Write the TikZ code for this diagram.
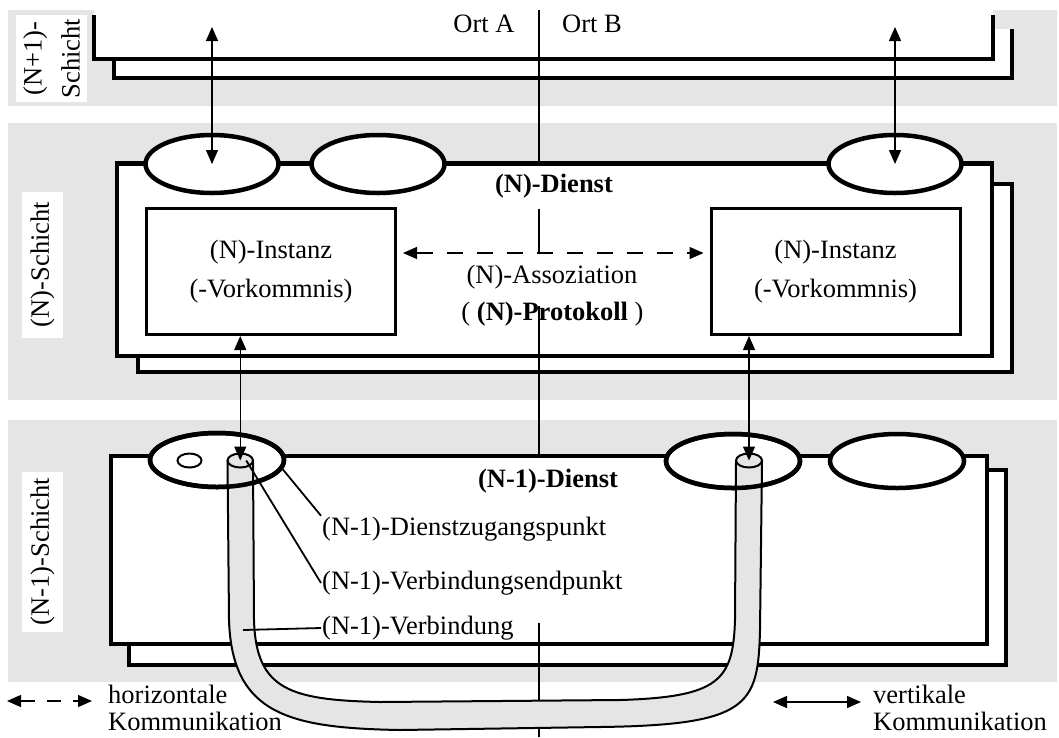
\documentclass[tikz,border=0pt]{standalone}
\usepackage{fontspec}
\setmainfont{Liberation Serif}
\usetikzlibrary{shapes.geometric}
\usetikzlibrary{arrows.meta}
\usetikzlibrary{calc}

\tikzset{
  layer/.style={fill=black!10},
  frame/.style={draw,line width=4.5pt,fill=white},
  sap/.style={ellipse,draw,line width=4.5pt,fill=white,
    minimum width=133pt,minimum height=58pt,inner sep=0pt},
  instanz/.style={draw,line width=3pt,fill=white,
    minimum width=249pt,minimum height=126pt,align=center,
    font=\fontsize{26.5}{39}\selectfont},
  schicht/.style={fill=white,rotate=90,inner sep=0pt,align=center},
  fett/.style={font=\fontsize{26.5}{30}\selectfont\bfseries},
  vert/.style={{Triangle[length=14pt,width=12pt]}-{Triangle[length=14pt,width=12pt]},
    line width=1.3pt},
  horiz/.style={vert,dash pattern=on 16pt off 14pt},
  leader/.style={line width=1.8pt},
  tube/.style={line width=2pt},
  tubetop/.style={ellipse,draw,line width=2pt,fill=black!10,
    minimum width=25.5pt,minimum height=14pt,inner sep=0pt}
}

\begin{document}
\begin{tikzpicture}[x=1pt,y=-1pt,
    every node/.style={font=\fontsize{26.5}{30}\selectfont,inner sep=1pt}]
    \useasboundingbox (0,0) rectangle (1059,737);
    % Schichten
    \fill [layer] (8,10) rectangle (1057,106);
    \fill [layer] (8,123) rectangle (1057,400);
    \fill [layer] (8,420) rectangle (1057,682);
    % (N+1)-Schicht
    \fill [white] (114,29) rectangle (1012,78);
    \draw [line width=4.5pt] (1012,29) -- (1012,78) -- (114,78) -- (114,59);
    \fill [white] (94,0) rectangle (993,59);
    \draw [line width=4.5pt] (94,15) -- (94,59) -- (993,59) -- (993,15);
    % (N)-Schicht
    \draw [frame] (138,184) rectangle (1012,372);
    \draw [frame] (117,163.5) rectangle (992,356);
    % (N-1)-Schicht
    \draw [frame] (129,470) rectangle (1006,665);
    \draw [frame] (111,456) rectangle (987,644);
    % Ort A | Ort B
    \draw [line width=1.2pt] (539,10) -- (539,165) (539,209) -- (539,253)
        (539,306) -- (539,456) (539,623) -- (539,737);
    % Dienstzugangspunkte
    \node [sap] (e1) at (212,164) {};
    \node [sap] (e2) at (378,164) {};
    \node [sap] (e3) at (895,164) {};
    \node [sap,minimum width=134pt,minimum height=54pt] (e4) at (217,460) {};
    \node [sap,minimum width=134pt,minimum height=54pt] (e5) at (733,461) {};
    \node [sap,minimum width=134pt,minimum height=54pt] (e6) at (897,461) {};
    \draw [tube] (189.5,460.5) ellipse (12 and 7);
    % Instanzen
    \node [instanz] (instL) at (271,271.5) {(N)-Instanz\\(-Vorkommnis)};
    \node [instanz] (instR) at (835.5,271.5) {(N)-Instanz\\(-Vorkommnis)};
    % Texte
    \node (ortA) at (484,24) {Ort A};
    \node (ortB) at (592,24) {Ort B};
    \node [fett] (dienstN) at (554,186) {(N)-Dienst};
    \node (assoz) at (552,277) {(N)-Assoziation};
    \node (protokoll) at (552.5,314) {( \textbf{(N)-Protokoll} )};
    \node [fett] (dienstNm1) at (548,481) {(N-1)-Dienst};
    \node [anchor=west] (lblSAP) at (321,529) {(N-1)-Dienstzugangspunkt};
    \node [anchor=west] (lblCEP) at (321,583) {(N-1)-Verbindungsendpunkt};
    \node [anchor=west] (lblConn) at (321,628) {(N-1)-Verbindung};
    \node [schicht,minimum width=87pt,minimum height=71pt,
        font=\fontsize{26.5}{38}\selectfont] (schichtNp1) at (51.5,58.5) {(N+1)-\\Schicht};
    \node [schicht,minimum width=146pt,minimum height=41pt] (schichtN) at (42.5,264.5) {(N)-Schicht};
    \node [schicht,minimum width=160pt,minimum height=41pt] (schichtNm1) at (42.5,551.5) {(N-1)-Schicht};
    % (N-1)-Verbindung
    \fill [black!10] (227.5,461) -- (229,620) .. controls (232,715) and (290,728) .. (400,730)
        -- (600,727) .. controls (750,725) and (758,705) .. (760,630) -- (762,461)
        -- (736,461) -- (735,620) .. controls (733,680) and (720,697) .. (620,700)
        -- (380,702) .. controls (290,700) and (256,690) .. (254,620) -- (253,461) -- cycle;
    \draw [tube] (227.5,461) -- (229,620) .. controls (232,715) and (290,728) .. (400,730)
        -- (600,727) .. controls (750,725) and (758,705) .. (760,630) -- (762,461);
    \draw [tube] (253,461) -- (254,620) .. controls (256,690) and (290,700) .. (380,702)
        -- (620,700) .. controls (720,697) and (733,680) .. (735,620) -- (736,461);
    \node [tubetop] (pipeA) at (240.25,460.5) {};
    \node [tubetop,minimum width=26pt] (pipeB) at (749,460.5) {};
    \draw [line width=4.5pt] (e4.center) ellipse [x radius=67pt,y radius=27pt];
    \draw [line width=4.5pt] (e5.center) ellipse [x radius=67pt,y radius=27pt];
    % Pfeile
    \coordinate (obenA) at (212,27);
    \coordinate (obenB) at (895,27);
    \draw [vert] (obenA) -- (e1.center);
    \draw [vert] (obenB) -- (e3.center);
    \draw [vert] (pipeA |- instL.south) -- (pipeA.center);
    \draw [vert] (pipeB |- instR.south) -- (pipeB.center);
    \draw [horiz,shorten <=6pt,shorten >=6pt]
        ([yshift=18.5pt]instL.east) -- ([yshift=18.5pt]instR.west);
    % Hinweislinien
    \coordinate (inRohr) at (243,630);
    \draw [leader] (e4.-8) -- (lblSAP.north west);
    \draw [leader] ([xshift=6pt]pipeA.center) -- (lblCEP.west);
    \draw [leader] (inRohr) -- (lblConn.west);
    % Legende
    \coordinate (hL) at (7,701);
    \coordinate (hR) at (92,701);
    \coordinate (vL) at (773,702);
    \coordinate (vR) at (861,702);
    \draw [horiz,dash pattern=on 14pt off 12pt] (hL) -- (hR);
    \draw [vert] (vL) -- (vR);
    \node [anchor=south west,align=left,font=\fontsize{26.5}{27}\selectfont]
        (legHoriz) at (107,732) {horizontale\\Kommunikation};
    \node [anchor=south west,align=left,font=\fontsize{26.5}{27}\selectfont]
        (legVert) at (872,732) {vertikale\\Kommunikation};
\end{tikzpicture}
\end{document}
